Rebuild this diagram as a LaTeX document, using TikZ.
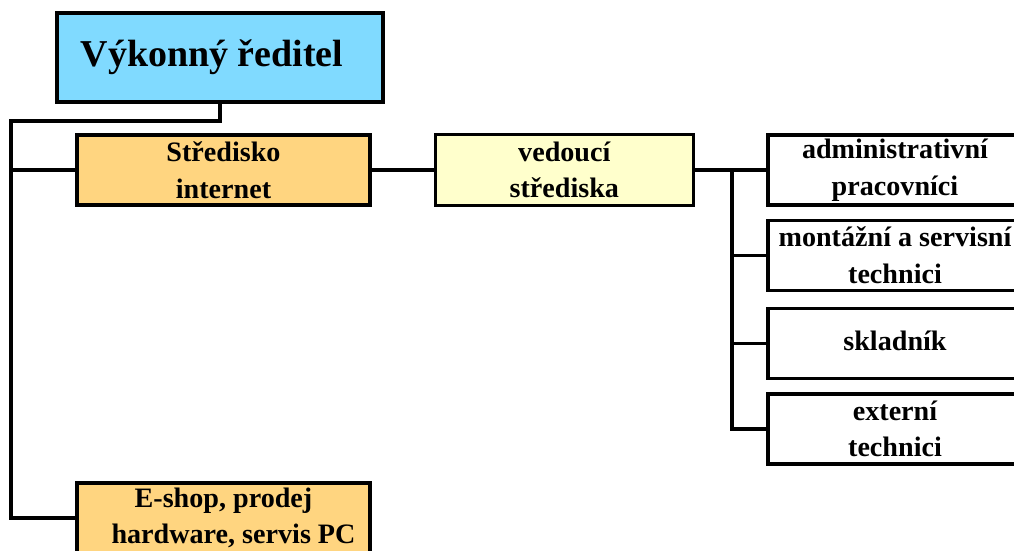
\documentclass[tikz,border=0pt]{standalone}
\usepackage{fontspec}
\setmainfont{Liberation Serif}
\usetikzlibrary{positioning}
\definecolor{Sky}{HTML}{80DAFF}
\definecolor{Apricot}{HTML}{FFD580}
\definecolor{Cream}{HTML}{FFFFCC}
\tikzset{
  conn/.style={line width=2.3pt,draw=black},
  unitbox/.style={draw=black,line width=2.3pt,align=center,font=\bfseries\fontsize{20}{26}\selectfont,inner sep=2pt},
  headbox/.style={unitbox,fill=Sky,font=\bfseries\fontsize{27}{32}\selectfont},
  deptbox/.style={unitbox,fill=Apricot,minimum width=7.325cm,minimum height=1.75cm},
  leadbox/.style={unitbox,fill=Cream,minimum width=6.45cm,minimum height=1.775cm},
  staffbox/.style={unitbox,fill=white,minimum width=6.35cm,minimum height=1.75cm}
}
\begin{document}
\begin{tikzpicture}[x=0.025cm,y=-0.025cm,node distance=.4cm]
  \useasboundingbox (0,0) rectangle (1014,551);
  \clip (0,0) rectangle (1014,551);
  \fill[white] (0,0) rectangle (1014,551);
  \node[headbox,minimum width=8.15cm,minimum height=2.225cm] (ceo) at (220,57.5) {Výkonný ředitel\strut\hspace*{.4cm}};
  \node[deptbox] (stredisko) at (223.5,170) {Středisko\\internet};
  \node[deptbox] (eshop) at (223.5,518) {E-shop, prodej\\\hspace*{.5cm}hardware, servis PC};
  \node[leadbox,right=1.55cm of stredisko] (vedouci) {vedoucí\\střediska};
  \node[staffbox] (admin) at (895,170) {administrativní\\pracovníci};
  \node[staffbox,below=.3cm of admin] (montaz) {montážní a servisní\\technici};
  \node[staffbox,below=.38cm of montaz] (sklad) {skladník\vphantom{p}};
  \node[staffbox,below=.3cm of sklad] (externi) {externí\\technici};
  \coordinate (trunk) at (11,121);
  \coordinate (bus) at (732,170);
  % left trunk
  \draw[conn] (ceo.south) |- (trunk) |- (eshop.west);
  \draw[conn] (trunk |- stredisko.west) -- (stredisko.west);
  \draw[conn] (stredisko.east) -- (vedouci.west);
  % staff bus
  \draw[conn] (vedouci.east) -- (admin.west);
  \draw[conn] (bus) |- (externi.west);
  \draw[conn] (bus |- montaz.west) -- (montaz.west);
  \draw[conn] (bus |- sklad.west) -- (sklad.west);
\end{tikzpicture}
\end{document}
